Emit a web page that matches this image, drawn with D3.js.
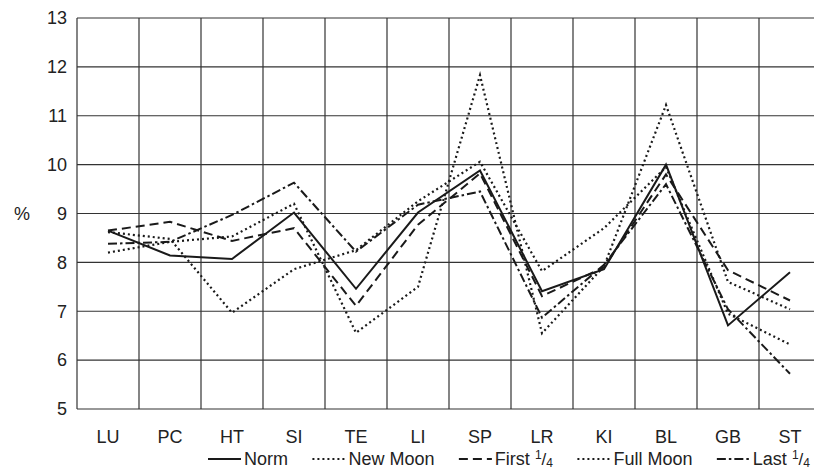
<!DOCTYPE html>
<html><head><meta charset="utf-8">
<script src="https://cdn.jsdelivr.net/npm/d3@7"></script>
<style>
html,body{margin:0;padding:0;background:#fff;}
text{font-family:"Liberation Sans",Arial,Helvetica,sans-serif;fill:#222;}
</style></head>
<body><svg id="c" width="814" height="472"></svg>
<script>
const categories = ["LU","PC","HT","SI","TE","LI","SP","LR","KI","BL","GB","ST"];
const yTicks = [5,6,7,8,9,10,11,12,13];
const norm     = [8.65, 8.14, 8.07, 9.02, 7.46, 9.02, 9.88, 7.41, 7.86, 10.00, 6.71, 7.80];
const newMoon  = [8.62, 8.48, 6.97, 7.86, 8.25, 9.25, 10.06, 7.82, 8.70, 9.95, 6.95, 6.32];
const first    = [8.65, 8.83, 8.44, 8.70, 7.11, 8.77, 9.82, 7.31, 7.90, 9.80, 7.84, 7.22];
const fullMoon = [8.20, 8.42, 8.53, 9.20, 6.56, 7.50, 11.83, 6.55, 7.92, 11.22, 7.60, 7.04];
const last     = [8.38, 8.42, 8.97, 9.63, 8.22, 9.18, 9.45, 6.87, 7.95, 9.60, 7.04, 5.72];
const seriesNames = ["Norm","New Moon","First","Full Moon","Last"];

const series = [
  {name:"Norm", values:norm, dash:null, w:2},
  {name:"New Moon", values:newMoon, dash:"2,3", w:2.2},
  {name:"First", values:first, dash:"9,5", w:2, frac:true},
  {name:"Full Moon", values:fullMoon, dash:"2,3", w:2.2},
  {name:"Last", values:last, dash:"9,3,2.5,3", w:2, frac:true}
];

const svg = d3.select("#c");
const L = 77, T = 18, B = 409, bw = 62;
const x = d3.scaleBand().domain(categories).range([L, L + bw*categories.length]).padding(0);
const y = d3.scaleLinear().domain([5,13]).range([B, T]);

// grid
const g = svg.append("g");
g.selectAll("line.h").data(yTicks).join("line")
  .attr("x1", L).attr("x2", L + bw*categories.length)
  .attr("y1", d=>y(d)).attr("y2", d=>y(d))
  .attr("stroke","#333").attr("stroke-width",1.2);
const bounds = categories.map(c=>x(c)).concat([x(categories[categories.length-1])+bw]);
g.selectAll("line.v").data(bounds).join("line")
  .attr("x1", d=>d).attr("x2", d=>d).attr("y1", T).attr("y2", B)
  .attr("stroke","#333").attr("stroke-width",1.2);

// axes
const yAxis = svg.append("g").attr("transform",`translate(${L},0)`)
  .call(d3.axisLeft(y).tickValues(yTicks).tickSize(0).tickPadding(10));
yAxis.select(".domain").remove();
yAxis.selectAll("text").style("font-size","18px").attr("fill","#222");
const xAxis = svg.append("g").attr("transform",`translate(0,${B})`)
  .call(d3.axisBottom(x).tickSize(0).tickPadding(21));
xAxis.select(".domain").remove();
xAxis.selectAll("text").style("font-size","18px").attr("fill","#222");

svg.append("text").attr("x",22).attr("y",(T+B)/2).attr("dy","0.35em")
  .attr("text-anchor","middle").style("font-size","18px").text("%");

// lines
const line = d3.line().x((d,i)=>x(categories[i])+bw/2).y(d=>y(d));
svg.append("g").selectAll("path").data(series).join("path")
  .attr("d", d=>line(d.values)).attr("fill","none")
  .attr("stroke","#1a1a1a").attr("stroke-width",d=>d.w)
  .attr("stroke-dasharray", d=>d.dash);

// legend
const ly = 459, sym = 33;
const lg = svg.append("g");
const items = series.map(s=>{
  const it = lg.append("g");
  it.append("line").attr("x1",0).attr("x2",sym).attr("y1",ly).attr("y2",ly)
    .attr("stroke","#1a1a1a").attr("stroke-width",s.w)
    .attr("stroke-dasharray", s.dash);
  const t = it.append("text").attr("x",sym+3).attr("y",ly).attr("dy","0.35em").style("font-size","18px");
  t.append("tspan").text(s.name);
  if (s.frac){
    t.append("tspan").text(" ");
    t.append("tspan").style("font-size","12px").attr("dy",-6).text("1");
    t.append("tspan").style("font-size","17px").attr("dy",6).text("/");
    t.append("tspan").style("font-size","12px").attr("dy",2).text("4");
  }
  return {g:it, w: sym+3+t.node().getComputedTextLength()};
});
const startX = 208, endX = 810;
const total = items.reduce((a,b)=>a+b.w,0);
const gap = (endX-startX-total)/(items.length-1);
let cx = startX;
items.forEach(it=>{ it.g.attr("transform",`translate(${cx},0)`); cx += it.w + gap; });
</script></body></html>
